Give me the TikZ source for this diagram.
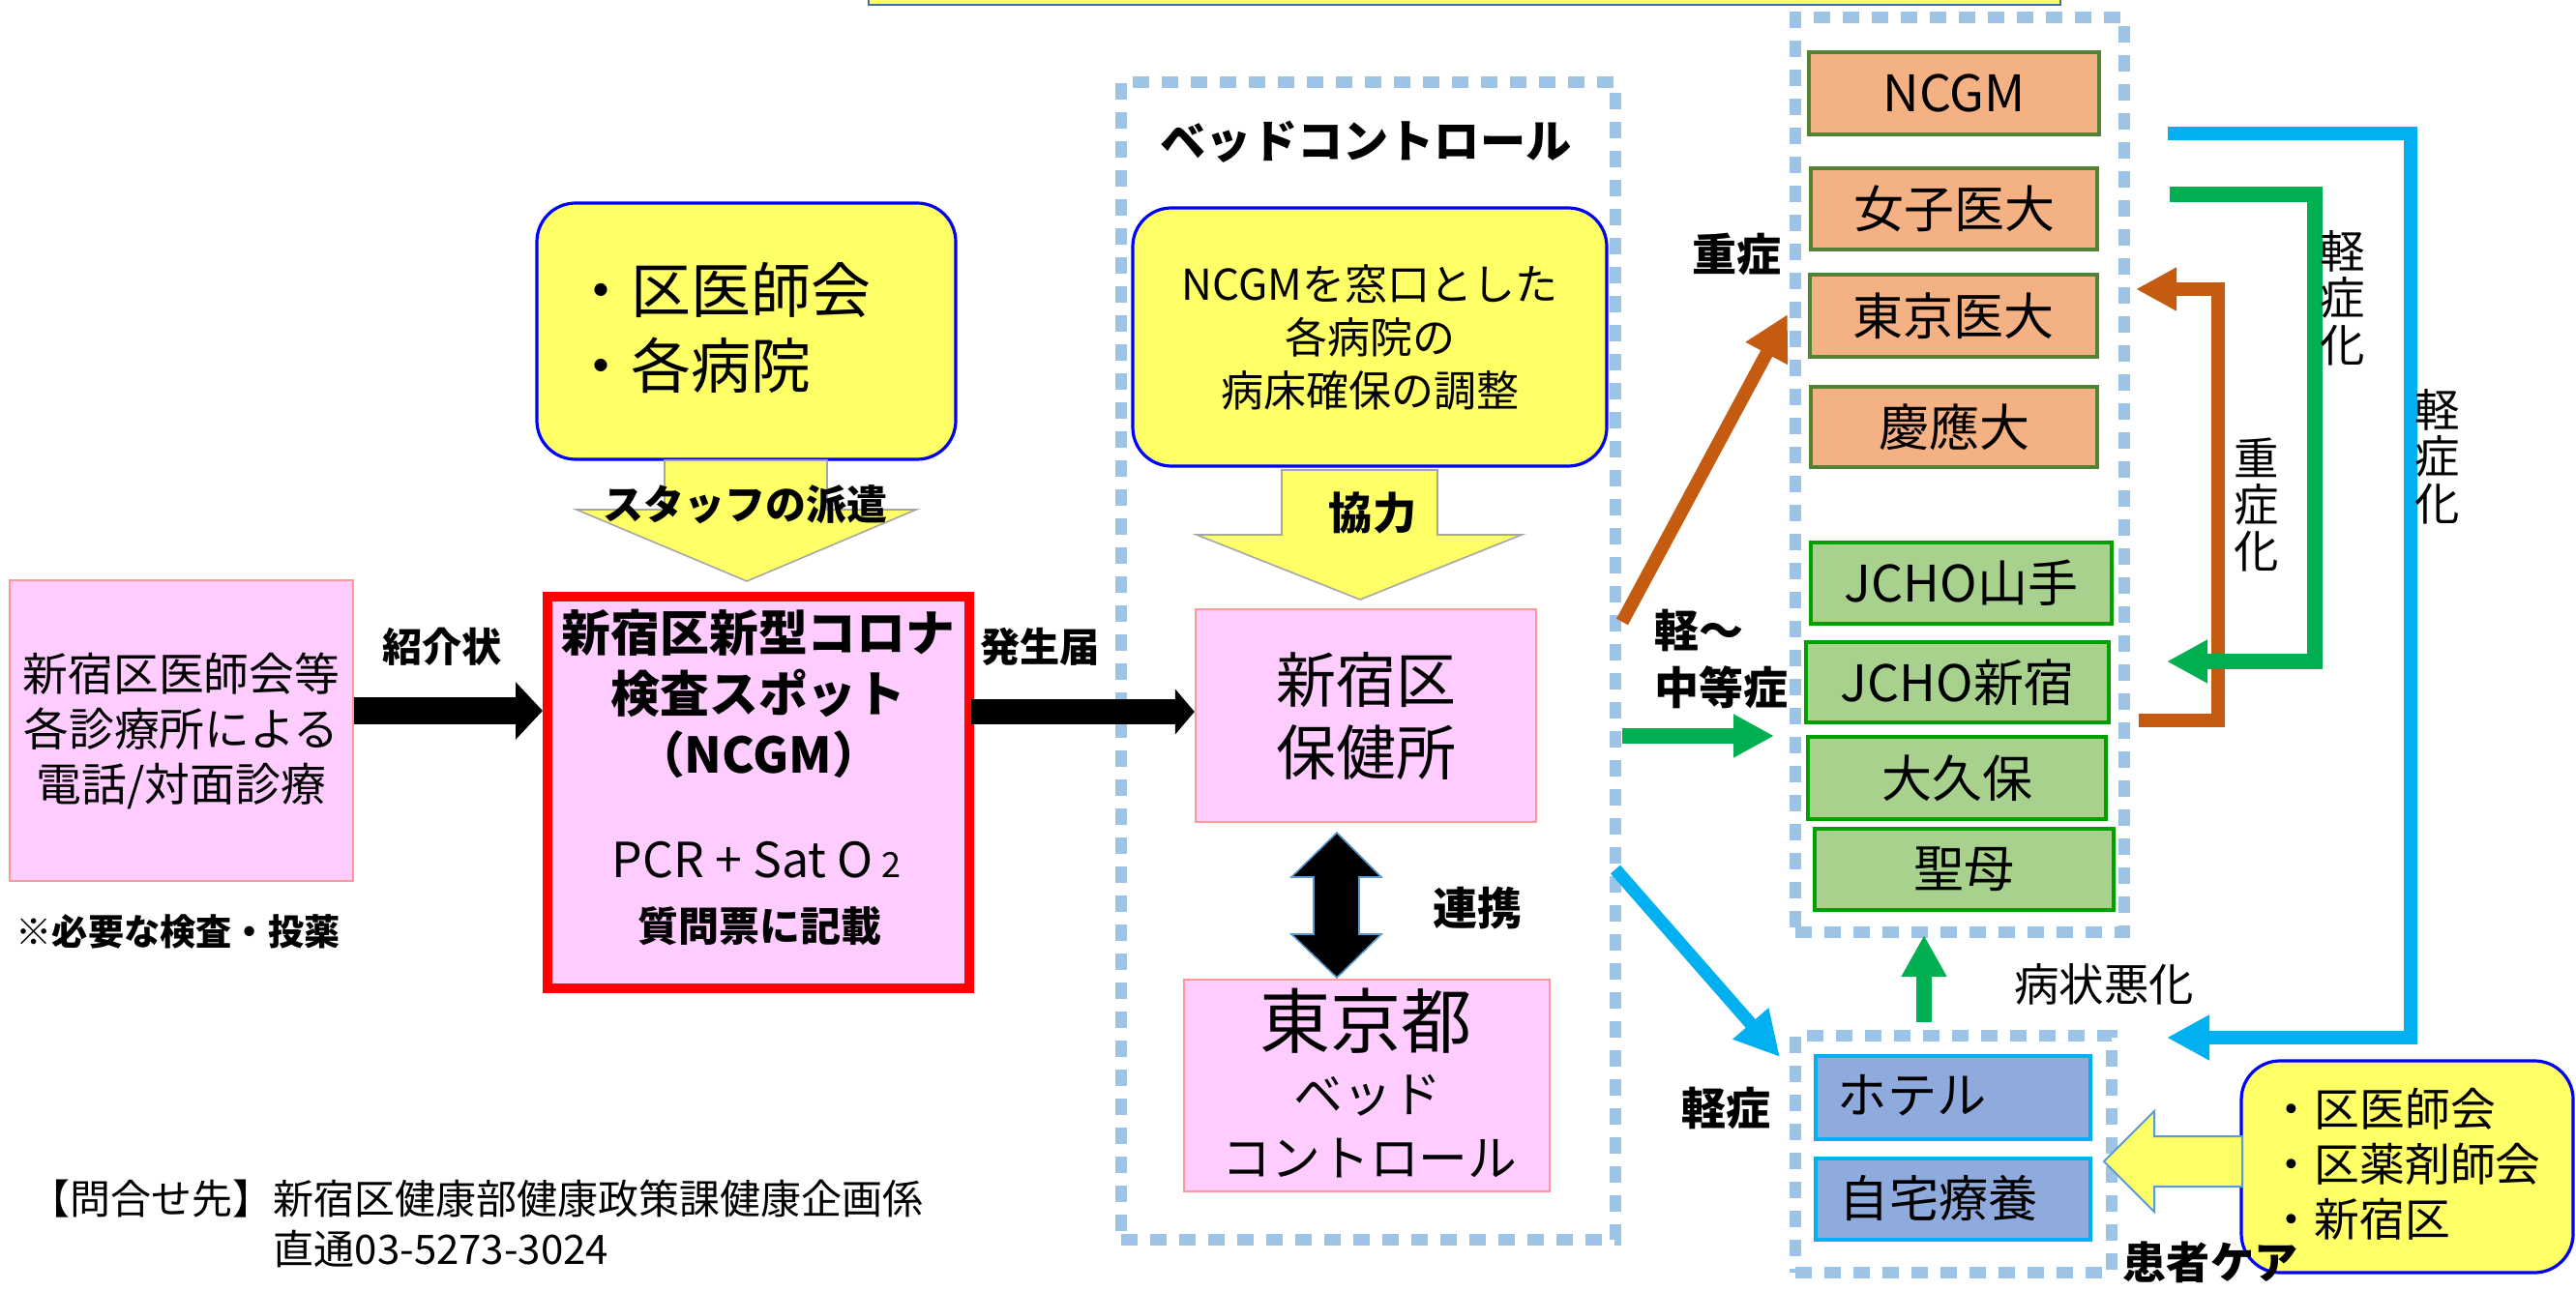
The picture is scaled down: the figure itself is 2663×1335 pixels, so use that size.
\documentclass[tikz,border=0pt]{standalone}
\usepackage{fontspec}
\setmainfont{Noto Sans CJK JP}
\usetikzlibrary{arrows.meta,calc}
\definecolor{pinkfill}{HTML}{FFCCFF}
\definecolor{pinkline}{HTML}{FF9999}
\definecolor{ylw}{HTML}{FFFF66}
\definecolor{ylwline}{HTML}{0000FF}
\definecolor{orfill}{HTML}{F4B183}
\definecolor{orline}{HTML}{548235}
\definecolor{grfill}{HTML}{A9D18E}
\definecolor{grline}{HTML}{00A000}
\definecolor{blfill}{HTML}{8FAADC}
\definecolor{blline}{HTML}{00B0F0}
\definecolor{dotc}{HTML}{9DC3E6}
\definecolor{arrOr}{HTML}{C55A11}
\definecolor{arrGr}{HTML}{00B050}
\definecolor{arrBl}{HTML}{00B0F0}
\definecolor{barline}{HTML}{41719C}
\definecolor{arrOutline}{HTML}{5B9BD5}
\definecolor{grayline}{HTML}{A6A6A6}
\newcommand\fsz[2]{\fontsize{#1pt}{#2pt}\selectfont}
\newcommand\boxat[7]{\node[#2, minimum width={(#5-#3)*0.25pt}, minimum height={(#6-#4)*0.25pt}] (#1) at ({(#3+#5)/2},{(#4+#6)/2}) {#7};}
\tikzset{
  pinkbox/.style={draw=pinkline, fill=pinkfill, line width=0.6pt, inner sep=0pt, align=center},
  redbox/.style={draw=red, fill=pinkfill, line width=2.5pt, inner sep=0pt},
  ybox/.style={draw=ylwline, fill=ylw, line width=0.8pt, rounded corners=10pt, inner sep=0pt, align=center},
  orbox/.style={draw=orline, fill=orfill, line width=0.8pt, inner sep=0pt, font=\fsz{13}{15}},
  grbox/.style={draw=grline, fill=grfill, line width=0.8pt, inner sep=0pt, font=\fsz{13}{15}},
  blbox/.style={draw=blline, fill=blfill, line width=0.9pt, inner sep=0pt},
  dotbox/.style={draw=dotc, line width=3.2pt, dash pattern=on 4.25pt off 3.25pt, inner sep=0pt},
  barbox/.style={draw=barline, fill=ylw, line width=0.7pt, inner sep=0pt},
  lbl/.style={inner sep=0pt, align=center},
  blabel/.style={inner sep=0pt, align=center, font=\bfseries\fsz{11.5}{14}},
  blkarrow/.style={draw=black, line width=#1},
  oline/.style={draw=arrOr, line width=3.4pt},
  gline/.style={draw=arrGr, line width=3.9pt},
  bline/.style={draw=arrBl, line width=3.3pt},
  yarrow/.style={fill=ylw, draw=grayline, line width=0.4pt},
  yarrowb/.style={fill=ylw, draw=arrOutline, line width=0.5pt},
}
\begin{document}
\begin{tikzpicture}[x=0.25pt,y=-0.25pt]
\useasboundingbox (0,0) rectangle (2663,1335);
\fill[white] (0,0) rectangle (2663,1335);

% top bar
\boxat{topbar}{barbox}{898}{-20}{2130}{5}{}

% dotted groups
\boxat{bedctl}{dotbox}{1159}{85}{1670}{1282}{}
\boxat{hospgrp}{dotbox}{1856}{18}{2196}{964}{}
\boxat{homegrp}{dotbox}{1856}{1071}{2183}{1316}{}

% left clinic box
\boxat{clinic}{pinkbox, font=\fsz{11.7}{14.25}}{10}{600}{365}{911}{新宿区医師会等\\各診療所による\\電話/対面診療}
\node[lbl, font=\bfseries\fsz{9.3}{11}] (note) at (184,963) {※必要な検査・投薬};

% red spot box
\boxat{spot}{redbox}{566}{617}{1002}{1022}{}
\node[lbl, font=\bfseries\fsz{12.7}{15.75}] (spottitle) at (784,717) {新宿区新型コロナ\\検査スポット\\（NCGM）};
\node[lbl, font=\fsz{12.5}{14}] (pcr) at (782,889) {PCR + Sat O\,{\fsz{9}{9}2}};
\node[lbl, font=\bfseries\fsz{10.5}{12}] (shitsumon) at (785,958) {質問票に記載};

% top yellow box
\boxat{staff}{ybox}{555}{210}{988}{475}{}
\node[lbl, anchor=west, align=left, font=\fsz{15.5}{19.5}] (stafftxt) at (590,339) {・区医師会\\・各病院};

% bed control
\node[blabel, font=\bfseries\fsz{11.8}{14}] (bedtitle) at (1412,147) {ベッドコントロール};
\boxat{coord}{ybox, font=\fsz{11}{13.75}}{1171}{215}{1661}{482}{NCGMを窓口とした\\各病院の\\病床確保の調整}
\boxat{hokenjo}{pinkbox, font=\fsz{15.5}{18.75}}{1236}{630}{1588}{850}{新宿区\\保健所}
\boxat{tokyo}{pinkbox}{1224}{1013}{1602}{1232}{}
\node[lbl, font=\fsz{18.3}{20}] (tokyotxt) at (1412,1056) {東京都};
\node[lbl, font=\fsz{12.7}{14}] (bedtxt) at (1414,1133) {ベッド};
\node[lbl, font=\fsz{12.7}{14}] (ctltxt) at (1416,1198) {コントロール};

% hospitals
\boxat{ncgm}{orbox}{1870}{54}{2170}{139}{NCGM}
\boxat{joshi}{orbox}{1872}{174}{2168}{258}{女子医大}
\boxat{tidai}{orbox}{1871}{284}{2168}{369}{東京医大}
\boxat{keio}{orbox}{1872}{400}{2168}{483}{慶應大}
\boxat{yamate}{grbox}{1872}{561}{2183}{645}{JCHO山手}
\boxat{jshin}{grbox}{1867}{664}{2180}{747}{JCHO新宿}
\boxat{okubo}{grbox}{1869}{762}{2177}{847}{大久保}
\boxat{seibo}{grbox}{1876}{857}{2185}{941}{聖母}

% hotel / home
\boxat{hotel}{blbox}{1877}{1092}{2161}{1178}{}
\boxat{home}{blbox}{1877}{1198}{2161}{1282}{}
\node[lbl, anchor=west, font=\fsz{12.8}{14}] (hoteltxt) at (1899,1133) {ホテル};
\node[lbl, anchor=west, font=\fsz{12.8}{14}] (hometxt) at (1901,1239) {自宅療養};

% care box
\boxat{care}{ybox}{2317}{1097}{2660}{1316}{}
\node[lbl, anchor=west, align=left, font=\fsz{11.7}{14.3}] (caretxt) at (2345,1204) {・区医師会\\・区薬剤師会\\・新宿区};

% black arrows
\coordinate (a1s) at (366,735);
\draw[blkarrow=7pt, -{Triangle[length=7pt,width=14.5pt]}] (a1s) -- (a1s -| spot.west);
\coordinate (a2s) at (1004,736);
\draw[blkarrow=6.5pt, -{Triangle[length=5pt,width=11.5pt]}] (a2s) -- (a2s -| hokenjo.west);
\node[blabel, font=\bfseries\fsz{10.3}{12}] (shokai) at (457,669) {紹介状};
\node[blabel, font=\bfseries\fsz{10.3}{12}] (hassei) at (1075,669) {発生届};

% yellow block arrows
\draw[yarrow] (687,476) -- (855,476) -- (855,527) -- (947,527) -- (772,601) -- (596,527) -- (687,527) -- cycle;
\node[blabel, font=\bfseries\fsz{10.5}{12}] (haken) at (770,522) {スタッフの派遣};
\draw[yarrow] (1325,486) -- (1486,486) -- (1486,553) -- (1573,553) -- (1406,620) -- (1237,553) -- (1325,553) -- cycle;
\node[blabel, font=\bfseries\fsz{11.3}{13}] (kyoryoku) at (1419,530) {協力};
\draw[yarrowb] (2318,1175) -- (2227,1175) -- (2227,1149) -- (2175,1201) -- (2227,1253) -- (2227,1227) -- (2318,1227) -- cycle;

% double arrow
\draw[fill=black, draw=arrOutline, line width=0.4pt] (1382,861) -- (1428,907) -- (1405,907) -- (1405,966) -- (1428,966) -- (1382,1011) -- (1335,966) -- (1358,966) -- (1358,907) -- (1335,907) -- cycle;
\node[blabel] (renkei) at (1527,939) {連携};

% triage arrows
\coordinate (od1) at (1677,643); \coordinate (od2) at (1848,325);
\draw[oline, -{Triangle[length=11.5pt,width=11.5pt]}] (od1) -- (od2);
\coordinate (gh1) at (1677,761); \coordinate (gh2) at (1834,761);
\draw[gline, -{Triangle[length=10.5pt,width=10.5pt]}] (gh1) -- (gh2);
\coordinate (bd1) at (1670,899); \coordinate (bd2) at (1840,1093);
\draw[bline, -{Triangle[length=11.5pt,width=11.5pt]}] (bd1) -- (bd2);
\node[blabel] (juusho) at (1795,263) {重症};
\node[blabel, anchor=west, align=left, font=\bfseries\fsz{11.5}{14.75}] (chuto) at (1710,681) {軽～\\中等症};
\node[blabel] (keisho) at (1784,1146) {軽症};

% worsening
\coordinate (gu1) at (1989,1057); \coordinate (gu2) at (1989,967);
\draw[draw=arrGr, line width=3.8pt, -{Triangle[length=10.75pt,width=11pt]}] (gu1) -- (gu2);
\node[lbl, font=\fsz{11.6}{13}] (akka) at (2175,1018) {病状悪化};

% side loops
\coordinate (or1) at (2211,745); \coordinate (or2) at (2208,299);
\draw[oline, line width=3.5pt, -{Triangle[length=10.5pt,width=10.5pt]}] (or1) -- (2293,745) -- (2293,299) -- (or2);
\coordinate (gr1) at (2243,201); \coordinate (gr2) at (2240,684);
\draw[gline, line width=3.8pt, -{Triangle[length=10.5pt,width=10.5pt]}] (gr1) -- (2393,201) -- (2393,684) -- (gr2);
\coordinate (bl1) at (2241,138); \coordinate (bl2) at (2240,1073);
\draw[bline, -{Triangle[length=11pt,width=11pt]}] (bl1) -- (2492,138) -- (2492,1073) -- (bl2);
\node[lbl, font=\fsz{11.6}{12.1}] (v1) at (2333,522) {重\\症\\化};
\node[lbl, font=\fsz{11.6}{12.1}] (v2) at (2422,308) {軽\\症\\化};
\node[lbl, font=\fsz{11.6}{12.1}] (v3) at (2520,472) {軽\\症\\化};

\node[blabel, font=\bfseries\fsz{11.3}{13}] (kanja) at (2285,1305) {患者ケア};

% contact
\node[lbl, anchor=west, font=\fsz{10.5}{12}] (contact1) at (30,1240) {【問合せ先】新宿区健康部健康政策課健康企画係};
\node[lbl, anchor=west, font=\fsz{10.5}{12}] (contact2) at (282,1291) {直通03-5273-3024};
\end{tikzpicture}
\end{document}
